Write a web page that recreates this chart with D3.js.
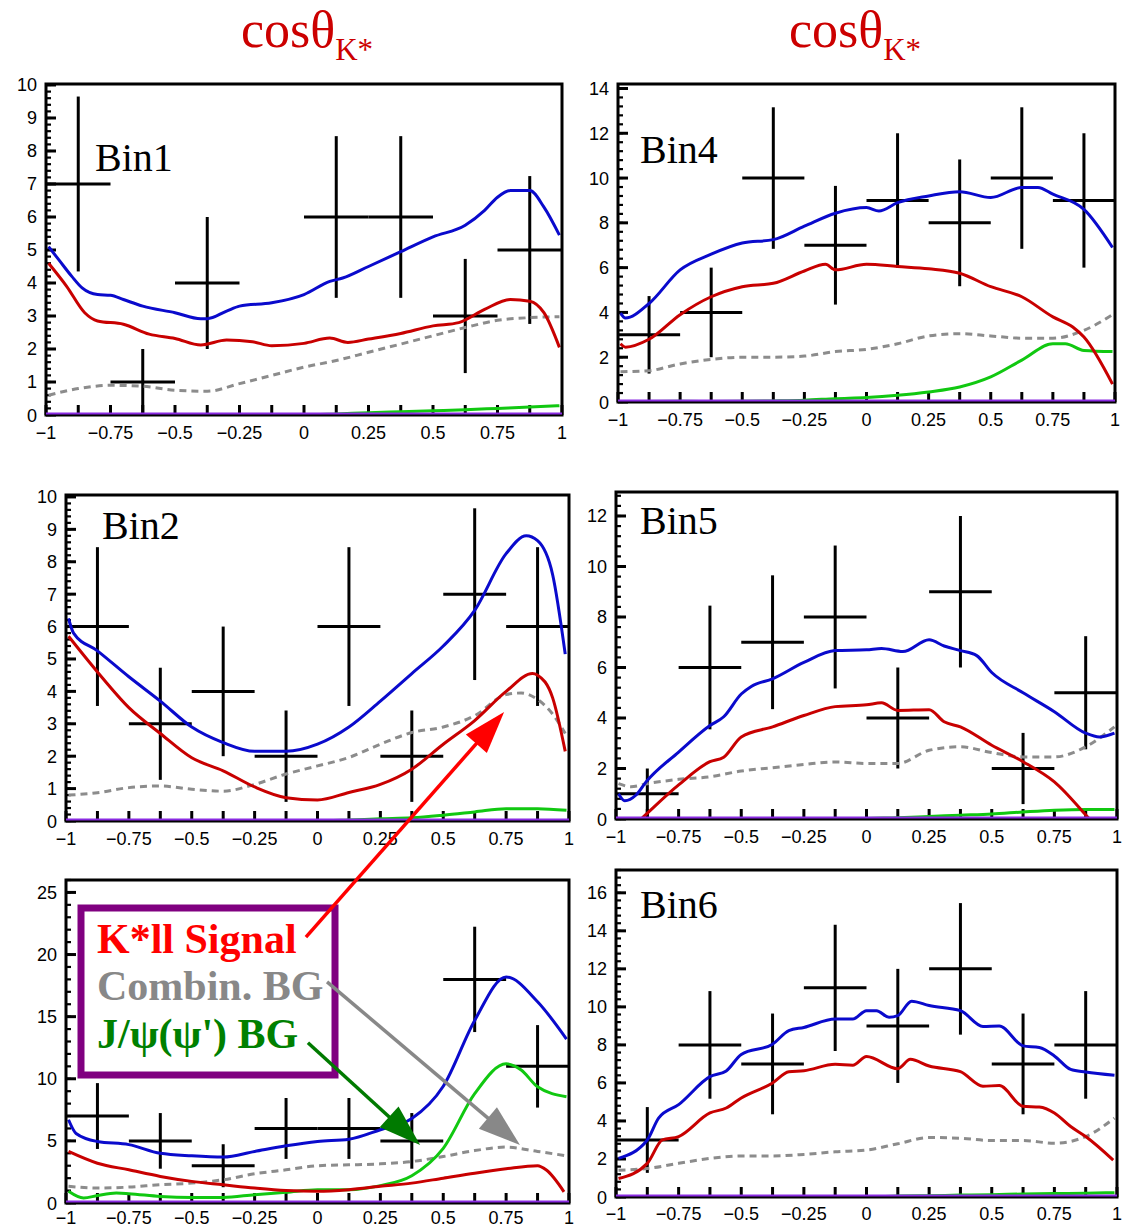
<!DOCTYPE html>
<html><head><meta charset="utf-8">
<script src="https://cdn.jsdelivr.net/npm/d3@7"></script>
<style>body{margin:0;background:#fff}svg{display:block}</style>
</head><body>
<svg id="c" width="1124" height="1229"></svg>
<script>
// ---------------- DATA ----------------
const titleText = "cosθ";
const titleSub = "K*";
const xTickValues = [-1,-0.75,-0.5,-0.25,0,0.25,0.5,0.75,1];
const xTickLabels = ["−1","−0.75","−0.5","−0.25","0","0.25","0.5","0.75","1"];
const binCenters = [-0.875,-0.625,-0.375,-0.125,0.125,0.375,0.625,0.875];
const binHalfWidth = 0.125;

const bin1Counts = [7,1,4,null,6,6,3,5];
const bin1Errors = [2.65,1.0,2.0,null,2.45,2.45,1.73,2.24];
const bin4Counts = [3,4,10,7,9,8,10,9];
const bin4Errors = [1.73,2.0,3.16,2.65,3.0,2.83,3.16,3.0];
const bin2Counts = [6,3,4,2,6,2,7,6];
const bin2Errors = [2.45,1.73,2.0,1.41,2.45,1.41,2.65,2.45];
const bin5Counts = [1,6,7,8,4,9,2,5];
const bin5Errors = [1.0,2.45,2.65,2.83,2.0,3.0,1.41,2.24];
const bin3Counts = [7,5,3,6,6,5,18,11];
const bin3Errors = [2.65,2.24,1.73,2.45,2.45,2.24,4.24,3.32];
const bin6Counts = [3,8,7,11,9,12,7,8];
const bin6Errors = [1.73,2.83,2.65,3.32,3.0,3.46,2.65,2.83];

const bin1YTicks = [0,1,2,3,4,5,6,7,8,9,10];
const bin4YTicks = [0,2,4,6,8,10,12,14];
const bin2YTicks = [0,1,2,3,4,5,6,7,8,9,10];
const bin5YTicks = [0,2,4,6,8,10,12];
const bin3YTicks = [0,5,10,15,20,25];
const bin6YTicks = [0,2,4,6,8,10,12,14,16];

// total fit (blue)
const bin1Total = [[-0.99,5.1],[-0.95,4.7],[-0.9,4.2],[-0.86,3.85],[-0.8,3.65],[-0.75,3.63],[-0.7,3.5],[-0.625,3.3],[-0.5,3.1],[-0.4,2.92],[-0.375,2.92],[-0.3,3.15],[-0.25,3.3],[-0.125,3.4],[0,3.65],[0.1,4.05],[0.15,4.15],[0.25,4.5],[0.375,4.95],[0.5,5.4],[0.625,5.75],[0.7,6.2],[0.75,6.6],[0.8,6.8],[0.875,6.8],[0.93,6.3],[0.99,5.45]];
const bin4Total = [[-0.99,3.97],[-0.97,3.75],[-0.875,4.4],[-0.75,5.9],[-0.625,6.6],[-0.5,7.1],[-0.375,7.25],[-0.25,7.85],[-0.125,8.43],[0,8.68],[0.05,8.53],[0.125,8.9],[0.25,9.2],[0.375,9.39],[0.5,9.13],[0.625,9.58],[0.69,9.58],[0.75,9.28],[0.875,8.6],[0.99,6.9]];
const bin2Total = [[-0.99,6.25],[-0.97,5.8],[-0.875,5.25],[-0.75,4.45],[-0.625,3.7],[-0.5,2.9],[-0.375,2.42],[-0.25,2.15],[-0.125,2.15],[0,2.37],[0.125,2.9],[0.25,3.7],[0.375,4.55],[0.5,5.4],[0.625,6.5],[0.75,8.25],[0.83,8.8],[0.875,8.65],[0.935,7.6],[0.985,5.15]];
const bin5Total = [[-0.99,1.0],[-0.965,0.72],[-0.92,0.95],[-0.88,1.47],[-0.75,2.65],[-0.625,3.7],[-0.57,4.05],[-0.5,4.95],[-0.46,5.25],[-0.375,5.55],[-0.25,6.2],[-0.125,6.67],[0,6.7],[0.06,6.75],[0.145,6.63],[0.25,7.1],[0.31,6.85],[0.375,6.67],[0.44,6.47],[0.5,5.8],[0.625,5.0],[0.75,4.25],[0.875,3.4],[0.93,3.25],[0.99,3.4]];
const bin3Total = [[-0.99,6.7],[-0.96,5.6],[-0.875,4.95],[-0.75,4.7],[-0.625,4.0],[-0.5,3.8],[-0.375,3.7],[-0.25,4.15],[-0.125,4.6],[0,4.95],[0.125,5.13],[0.25,5.9],[0.375,6.8],[0.5,9.4],[0.625,14.7],[0.75,18.2],[0.875,16.2],[0.99,13.2]];
const bin6Total = [[-0.99,2.03],[-0.875,3.0],[-0.83,4.15],[-0.75,4.86],[-0.625,6.33],[-0.56,6.63],[-0.5,7.5],[-0.375,8.04],[-0.31,8.75],[-0.25,8.92],[-0.125,9.36],[-0.055,9.36],[0,9.8],[0.04,9.8],[0.09,9.45],[0.125,9.54],[0.18,10.3],[0.25,10.07],[0.375,9.8],[0.465,8.97],[0.53,9.0],[0.625,7.95],[0.69,7.86],[0.75,7.42],[0.815,6.71],[0.875,6.57],[0.99,6.4]];

// K*ll signal (red)
const bin1Signal = [[-0.99,4.6],[-0.92,3.9],[-0.85,3.1],[-0.8,2.85],[-0.7,2.75],[-0.6,2.45],[-0.5,2.32],[-0.4,2.12],[-0.3,2.27],[-0.2,2.22],[-0.125,2.1],[0,2.17],[0.1,2.33],[0.17,2.2],[0.25,2.3],[0.375,2.47],[0.5,2.7],[0.6,2.8],[0.7,3.2],[0.8,3.5],[0.875,3.45],[0.93,3.1],[0.99,2.05]];
const bin4Signal = [[-0.99,2.6],[-0.97,2.45],[-0.875,2.8],[-0.75,3.9],[-0.625,4.7],[-0.5,5.15],[-0.375,5.3],[-0.25,5.85],[-0.165,6.15],[-0.125,5.9],[0,6.15],[0.125,6.05],[0.25,5.95],[0.375,5.75],[0.5,5.15],[0.625,4.7],[0.75,3.8],[0.83,3.35],[0.875,2.9],[0.99,0.8]];
const bin2Signal = [[-0.99,5.7],[-0.875,4.6],[-0.75,3.5],[-0.625,2.7],[-0.5,1.95],[-0.375,1.55],[-0.25,1.05],[-0.125,0.72],[0,0.65],[0.125,0.88],[0.25,1.13],[0.375,1.6],[0.5,2.37],[0.625,3.1],[0.75,4.0],[0.855,4.55],[0.875,4.5],[0.935,3.8],[0.985,2.15]];
const bin5Signal = [[-1,-0.9],[-0.9,0],[-0.75,1.35],[-0.625,2.27],[-0.57,2.45],[-0.5,3.25],[-0.375,3.65],[-0.25,4.1],[-0.125,4.45],[0,4.52],[0.06,4.6],[0.125,4.3],[0.25,4.33],[0.31,3.85],[0.375,3.65],[0.5,2.92],[0.625,2.27],[0.75,1.47],[0.89,0],[1,-1.2]];
const bin3Signal = [[-0.99,4.15],[-0.875,3.2],[-0.75,2.67],[-0.625,2.14],[-0.5,1.74],[-0.375,1.47],[-0.25,1.2],[-0.125,1.0],[0,0.94],[0.125,1.07],[0.25,1.34],[0.375,1.6],[0.5,2.0],[0.625,2.4],[0.75,2.75],[0.875,3.0],[0.91,2.65],[0.98,0.9]];
const bin6Signal = [[-0.99,0.97],[-0.875,1.77],[-0.815,3.0],[-0.75,3.18],[-0.625,4.42],[-0.56,4.68],[-0.5,5.21],[-0.375,6.0],[-0.31,6.59],[-0.25,6.64],[-0.125,6.98],[-0.055,6.93],[0,7.39],[0.125,6.75],[0.175,7.24],[0.25,6.89],[0.375,6.59],[0.465,5.83],[0.53,5.86],[0.625,4.77],[0.69,4.73],[0.75,4.42],[0.815,3.71],[0.875,3.18],[0.985,1.94]];

// combinatorial background (grey dashed)
const bin1Combin = [[-0.99,0.6],[-0.875,0.8],[-0.75,0.9],[-0.625,0.87],[-0.5,0.75],[-0.375,0.72],[-0.25,0.95],[-0.125,1.2],[0,1.45],[0.125,1.65],[0.25,1.9],[0.375,2.15],[0.5,2.4],[0.625,2.65],[0.75,2.87],[0.875,2.95],[0.99,2.98]];
const bin4Combin = [[-0.99,1.35],[-0.875,1.4],[-0.75,1.7],[-0.625,1.9],[-0.5,2.0],[-0.375,2.0],[-0.25,2.05],[-0.125,2.25],[0,2.35],[0.125,2.6],[0.25,2.95],[0.375,3.05],[0.5,2.95],[0.625,2.85],[0.75,2.85],[0.875,3.2],[0.99,3.9]];
const bin2Combin = [[-0.99,0.8],[-0.875,0.87],[-0.75,1.03],[-0.625,1.08],[-0.5,0.98],[-0.375,0.92],[-0.25,1.13],[-0.125,1.45],[0,1.7],[0.125,1.96],[0.25,2.37],[0.375,2.73],[0.5,2.9],[0.625,3.25],[0.75,3.9],[0.81,3.95],[0.875,3.75],[0.935,3.3],[0.985,2.7]];
const bin5Combin = [[-0.99,1.4],[-0.94,1.28],[-0.875,1.4],[-0.75,1.57],[-0.625,1.67],[-0.5,1.9],[-0.375,2.03],[-0.25,2.16],[-0.125,2.26],[0,2.2],[0.125,2.2],[0.25,2.72],[0.375,2.86],[0.5,2.63],[0.625,2.46],[0.75,2.46],[0.875,2.86],[0.99,3.65]];
const bin3Combin = [[-0.99,1.34],[-0.875,1.2],[-0.75,1.28],[-0.625,1.47],[-0.5,1.6],[-0.375,1.87],[-0.25,2.35],[-0.125,2.67],[0,3.0],[0.125,3.07],[0.25,3.15],[0.375,3.34],[0.5,3.74],[0.625,4.22],[0.75,4.5],[0.875,4.15],[0.99,3.8]];
const bin6Combin = [[-0.99,1.41],[-0.875,1.5],[-0.75,1.77],[-0.625,2.03],[-0.5,2.16],[-0.375,2.16],[-0.25,2.24],[-0.125,2.38],[0,2.47],[0.125,2.8],[0.25,3.13],[0.375,3.09],[0.5,2.97],[0.625,2.97],[0.75,2.83],[0.875,3.18],[0.99,4.15]];

// J/psi (psi') background (green)
const bin1Jpsi = [[-0.99,0],[0,0],[0.125,0.03],[0.25,0.07],[0.375,0.1],[0.5,0.13],[0.625,0.16],[0.75,0.2],[0.875,0.24],[0.99,0.28]];
const bin4Jpsi = [[-0.99,0],[-0.875,0.02],[-0.75,0.03],[-0.625,0.02],[-0.5,0.03],[-0.375,0.05],[-0.25,0.08],[-0.125,0.15],[0,0.2],[0.125,0.3],[0.25,0.45],[0.375,0.67],[0.5,1.12],[0.625,1.87],[0.75,2.6],[0.8,2.6],[0.875,2.3],[0.99,2.25]];
const bin2Jpsi = [[-0.99,0],[0,0],[0.125,0.03],[0.25,0.07],[0.375,0.1],[0.5,0.18],[0.625,0.28],[0.75,0.38],[0.875,0.38],[0.99,0.33]];
const bin5Jpsi = [[-0.99,0],[-0.05,0],[0,0.02],[0.125,0.05],[0.25,0.1],[0.375,0.15],[0.5,0.2],[0.625,0.28],[0.75,0.35],[0.875,0.38],[0.99,0.38]];
const bin3Jpsi = [[-0.99,0.94],[-0.93,0.4],[-0.875,0.6],[-0.8,0.8],[-0.75,0.75],[-0.625,0.53],[-0.5,0.45],[-0.375,0.45],[-0.25,0.67],[-0.125,0.86],[0,1.07],[0.125,1.07],[0.25,1.4],[0.375,2.2],[0.5,4.4],[0.625,8.8],[0.75,11.2],[0.81,10.7],[0.875,9.35],[0.99,8.55]];
const bin6Jpsi = [[-0.99,0],[0,0],[0.125,0.05],[0.25,0.07],[0.375,0.1],[0.5,0.12],[0.625,0.16],[0.75,0.18],[0.875,0.2],[0.99,0.23]];

// other component (purple, zero everywhere)
const zeroLine = [[-1,0],[1,0]];

const legendLabels = ["K*ll Signal","Combin. BG","J/ψ(ψ') BG"];

// ---------------- LAYOUT ----------------
const panels = [
  {id:"bin1", label:"Bin1", left:46, right:562, top:84, bottom:415, yMax:10.03, lab:[95,171], xLabOff:24,
   counts:bin1Counts, errs:bin1Errors, yTicks:bin1YTicks, total:bin1Total, signal:bin1Signal, combin:bin1Combin, jpsi:bin1Jpsi},
  {id:"bin4", label:"Bin4", left:618, right:1115, top:84, bottom:402, yMax:14.2, lab:[640,163], xLabOff:24,
   counts:bin4Counts, errs:bin4Errors, yTicks:bin4YTicks, total:bin4Total, signal:bin4Signal, combin:bin4Combin, jpsi:bin4Jpsi},
  {id:"bin2", label:"Bin2", left:66, right:569, top:495, bottom:821, yMax:10.06, lab:[102,539], xLabOff:24,
   counts:bin2Counts, errs:bin2Errors, yTicks:bin2YTicks, total:bin2Total, signal:bin2Signal, combin:bin2Combin, jpsi:bin2Jpsi},
  {id:"bin5", label:"Bin5", left:616, right:1117, top:492, bottom:819, yMax:12.95, lab:[640,534], xLabOff:24,
   counts:bin5Counts, errs:bin5Errors, yTicks:bin5YTicks, total:bin5Total, signal:bin5Signal, combin:bin5Combin, jpsi:bin5Jpsi},
  {id:"bin3", label:null, left:66, right:569, top:880, bottom:1203, yMax:26, lab:null, xLabOff:21,
   counts:bin3Counts, errs:bin3Errors, yTicks:bin3YTicks, total:bin3Total, signal:bin3Signal, combin:bin3Combin, jpsi:bin3Jpsi},
  {id:"bin6", label:"Bin6", left:616, right:1117, top:870, bottom:1197, yMax:17.2, lab:[640,918], xLabOff:23,
   counts:bin6Counts, errs:bin6Errors, yTicks:bin6YTicks, total:bin6Total, signal:bin6Signal, combin:bin6Combin, jpsi:bin6Jpsi}
];

const svg = d3.select("#c");
const SANS = "'Liberation Sans', Arial, sans-serif";
const SERIF = "'Liberation Serif', 'Times New Roman', serif";

// titles
[[241,47],[789,47]].forEach(([tx,ty]) => {
  const t = svg.append("text").attr("x",tx).attr("y",ty)
    .attr("font-family",SERIF).attr("font-size",52).attr("fill","#cc0000");
  t.append("tspan").text(titleText);
  t.append("tspan").attr("dy",13).attr("font-size",31).text(titleSub);
});

const scales = {};
panels.forEach(p => {
  const x = d3.scaleLinear().domain([-1,1]).range([p.left,p.right]);
  const y = d3.scaleLinear().domain([0,p.yMax]).range([p.bottom,p.top]);
  scales[p.id] = {x,y};
  const g = svg.append("g");
  const clipId = "clip-"+p.id;
  svg.append("defs").append("clipPath").attr("id",clipId)
    .append("rect").attr("x",p.left).attr("y",p.top).attr("width",p.right-p.left).attr("height",p.bottom-p.top);

  // x ticks every 0.125
  const xt = d3.range(-1,1.0001,0.125);
  g.selectAll(".xt").data(xt).enter().append("line")
    .attr("x1",d=>x(d)).attr("x2",d=>x(d)).attr("y1",p.bottom).attr("y2",p.bottom-10)
    .attr("stroke","#000").attr("stroke-width",3);
  g.selectAll(".xl").data(xTickValues).enter().append("text")
    .attr("x",d=>x(d)).attr("y",p.bottom+p.xLabOff).attr("text-anchor","middle")
    .attr("font-family",SANS).attr("font-size",18).attr("fill","#000")
    .text((d,i)=>xTickLabels[i]);

  // y ticks
  const step = p.yTicks[1]-p.yTicks[0];
  const minor = d3.range(0,p.yMax+1e-6,step/5);
  g.selectAll(".ym").data(minor).enter().append("line")
    .attr("x1",p.left).attr("x2",p.left+5).attr("y1",d=>y(d)).attr("y2",d=>y(d))
    .attr("stroke","#000").attr("stroke-width",2.2);
  g.selectAll(".yM").data(p.yTicks).enter().append("line")
    .attr("x1",p.left).attr("x2",p.left+10).attr("y1",d=>y(d)).attr("y2",d=>y(d))
    .attr("stroke","#000").attr("stroke-width",3);
  g.selectAll(".yl").data(p.yTicks).enter().append("text")
    .attr("x",p.left-9).attr("y",d=>y(d)+6.5).attr("text-anchor","end")
    .attr("font-family",SANS).attr("font-size",18).attr("fill","#000")
    .text(d=>d);

  const inner = g.append("g").attr("clip-path",`url(#${clipId})`);
  // data points with error bars
  const pts = binCenters.map((c,i)=>({c, n:p.counts[i], e:p.errs[i]})).filter(d=>d.n!==null);
  pts.forEach(d => {
    inner.append("line").attr("x1",x(d.c-binHalfWidth)).attr("x2",x(d.c+binHalfWidth))
      .attr("y1",y(d.n)).attr("y2",y(d.n)).attr("stroke","#000").attr("stroke-width",3);
    inner.append("line").attr("x1",x(d.c)).attr("x2",x(d.c))
      .attr("y1",y(d.n+d.e)).attr("y2",y(Math.max(0,d.n-d.e))).attr("stroke","#000").attr("stroke-width",3);
  });

  const line = d3.line().x(d=>x(d[0])).y(d=>y(d[1])).curve(d3.curveMonotoneX);
  inner.append("path").attr("d",line(p.combin)).attr("fill","none")
    .attr("stroke","#8c8c8c").attr("stroke-width",3).attr("stroke-dasharray","7,5");
  inner.append("path").attr("d",line(p.jpsi)).attr("fill","none")
    .attr("stroke","#11c811").attr("stroke-width",3);
  inner.append("path").attr("d",line(p.signal)).attr("fill","none")
    .attr("stroke","#c80000").attr("stroke-width",3);
  inner.append("path").attr("d",line(p.total)).attr("fill","none")
    .attr("stroke","#0a0acc").attr("stroke-width",3);

  // frame
  g.append("rect").attr("x",p.left).attr("y",p.top).attr("width",p.right-p.left).attr("height",p.bottom-p.top)
    .attr("fill","none").attr("stroke","#000").attr("stroke-width",3);
  // purple zero component
  g.append("path").attr("d",d3.line().x(d=>x(d[0])).y(d=>y(d[1]))(zeroLine))
    .attr("transform","translate(0,-1.5)")
    .attr("stroke","#8a2be2").attr("stroke-width",2).attr("fill","none");

  if (p.label) {
    g.append("text").attr("x",p.lab[0]).attr("y",p.lab[1]).attr("font-family",SERIF)
      .attr("font-size",40).attr("fill","#000").text(p.label);
  }
});

// legend box (in bottom-left panel)
const lg = svg.append("g");
lg.append("rect").attr("x",81).attr("y",908).attr("width",254).attr("height",167)
  .attr("fill","#fff").attr("stroke","#800080").attr("stroke-width",7);
const legendColors = ["#ff0000","#888888","#008000"];
const legendY = [953,1000,1048];
legendLabels.forEach((t,i)=>{
  lg.append("text").attr("x",97).attr("y",legendY[i]).attr("font-family",SERIF)
    .attr("font-weight","bold").attr("font-size",42).attr("fill",legendColors[i]).text(t);
});

// arrows (start/end given in panel data coordinates)
const arrows = [
  {color:"#ff0000", from:["bin3",-0.046,21.4], to:["bin2",0.742,3.36]},
  {color:"#888888", from:["bin3",0.038,17.8], to:["bin3",0.805,4.66]},
  {color:"#007a00", from:["bin3",-0.038,12.9], to:["bin3",0.408,4.66]}
];
arrows.forEach(a=>{
  const sx = scales[a.from[0]].x(a.from[1]), sy = scales[a.from[0]].y(a.from[2]);
  const ex = scales[a.to[0]].x(a.to[1]), ey = scales[a.to[0]].y(a.to[2]);
  const dx = ex-sx, dy = ey-sy, L = Math.hypot(dx,dy);
  const ux = dx/L, uy = dy/L, hl = 42, hw = 14;
  const bx = ex-ux*hl, by = ey-uy*hl;
  svg.append("line").attr("x1",sx).attr("y1",sy).attr("x2",bx+ux*4).attr("y2",by+uy*4)
    .attr("stroke",a.color).attr("stroke-width",3.5);
  svg.append("polygon").attr("points",
    [[ex,ey],[bx-uy*hw,by+ux*hw],[bx+uy*hw,by-ux*hw]].map(p=>p.join(",")).join(" "))
    .attr("fill",a.color);
});
</script>
</body></html>
